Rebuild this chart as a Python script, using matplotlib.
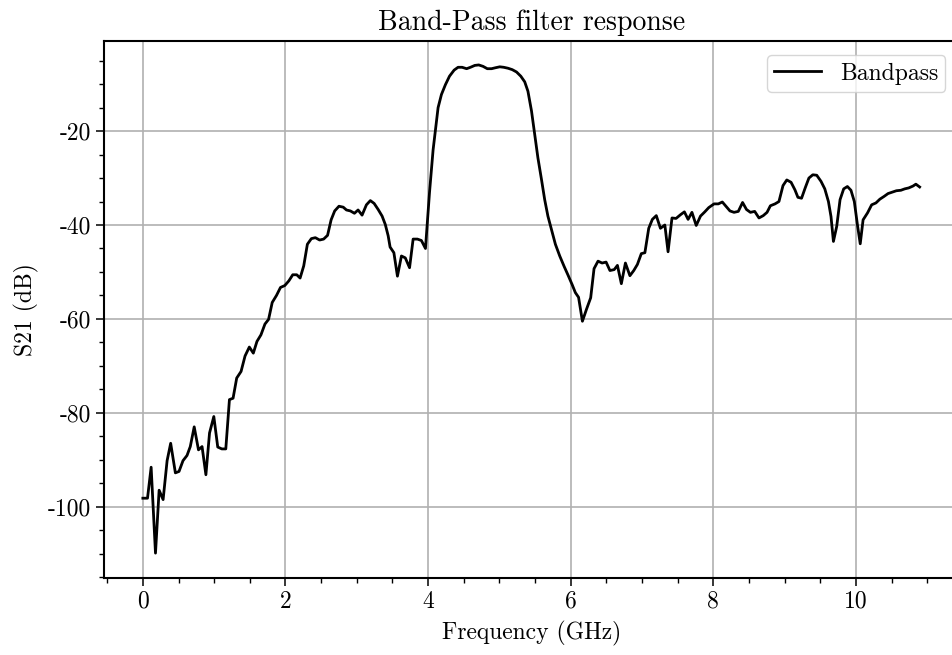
"""Band-pass filter S21 plot"""

import matplotlib
matplotlib.use("Agg")
import matplotlib.pyplot as plt
from matplotlib.ticker import MultipleLocator

plt.rcParams['font.family'] = 'serif'
plt.rcParams['font.serif'] = ['cmr10']
plt.rcParams['axes.formatter.use_mathtext'] = False
plt.rcParams['axes.unicode_minus'] = False
matplotlib.rc('font', **{"size": 17})

# measured S21 of the band-pass filter
freq_ghz = [
    0.0, 0.065, 0.116, 0.177, 0.228, 0.284, 0.34, 0.39, 0.456, 0.507,
    0.563, 0.619, 0.665, 0.72, 0.78, 0.83, 0.884, 0.935, 0.995, 1.05,
    1.107, 1.163, 1.214, 1.265, 1.316, 1.377, 1.433, 1.493, 1.549, 1.6,
    1.656, 1.712, 1.763, 1.814, 1.874, 1.93, 1.99, 2.047, 2.102, 2.158,
    2.205, 2.256, 2.307, 2.363, 2.419, 2.479, 2.535, 2.59, 2.64, 2.69,
    2.75, 2.81, 2.855, 2.91, 2.967, 3.018, 3.074, 3.135, 3.19, 3.243,
    3.3, 3.355, 3.40, 3.44, 3.467, 3.52, 3.57, 3.626, 3.68, 3.74,
    3.79, 3.85, 3.906, 3.963, 4.02, 4.07, 4.14, 4.187, 4.243, 4.30,
    4.365, 4.42, 4.477, 4.54, 4.594, 4.655, 4.71, 4.77, 4.83, 4.89,
    4.944, 5.005, 5.06, 5.12, 5.18, 5.24, 5.30, 5.355, 5.40, 5.45,
    5.495, 5.54, 5.59, 5.635, 5.68, 5.73, 5.785, 5.846, 5.907, 5.963,
    6.02, 6.065, 6.11, 6.164, 6.22, 6.28, 6.327, 6.383, 6.44, 6.496,
    6.55, 6.61, 6.655, 6.71, 6.767, 6.83, 6.884, 6.935, 6.99, 7.04,
    7.094, 7.145, 7.20, 7.258, 7.32, 7.365, 7.42, 7.477, 7.54, 7.594,
    7.646, 7.70, 7.76, 7.82, 7.88, 7.935, 8.01, 8.07, 8.126, 8.177,
    8.233, 8.29, 8.35, 8.41, 8.465, 8.52, 8.58, 8.64, 8.70, 8.753,
    8.80, 8.865, 8.92, 8.977, 9.03, 9.09, 9.144, 9.186, 9.237, 9.288,
    9.34, 9.395, 9.45, 9.51, 9.563, 9.614, 9.65, 9.684, 9.73, 9.777,
    9.828, 9.88, 9.93, 9.977, 10.02, 10.06, 10.10, 10.163, 10.22, 10.28,
    10.335, 10.395, 10.45, 10.51, 10.567, 10.63, 10.684, 10.74, 10.8, 10.84,
    10.893,
]
s21_db = [
    -98.2, -98.2, -91.6, -109.9, -96.5, -98.5, -90.2, -86.5, -92.8, -92.5,
    -90.2, -89.1, -87.2, -83.0, -87.9, -87.2, -93.2, -84.3, -80.8, -87.3,
    -87.7, -87.7, -77.2, -76.9, -72.6, -71.2, -67.9, -66.0, -67.3, -64.8,
    -63.4, -61.1, -60.1, -56.5, -55.0, -53.3, -52.9, -51.9, -50.6, -50.6,
    -51.3, -48.7, -44.1, -42.9, -42.7, -43.2, -43.0, -42.2, -38.9, -37.0,
    -36.0, -36.2, -36.8, -37.0, -37.5, -36.8, -37.9, -35.7, -34.8, -35.4,
    -36.7, -38.1, -39.9, -42.3, -44.7, -45.9, -50.9, -46.6, -47.0, -49.1,
    -43.0, -43.0, -43.3, -45.0, -33.0, -24.0, -15.0, -12.2, -10.1, -8.3,
    -7.0, -6.4, -6.4, -6.7, -6.4, -6.0, -5.9, -6.2, -6.7, -6.7,
    -6.5, -6.3, -6.4, -6.6, -6.9, -7.4, -8.3, -9.5, -11.5, -15.7,
    -20.7, -25.7, -30.3, -34.6, -38.1, -41.0, -44.1, -46.6, -48.8, -50.7,
    -52.7, -54.4, -55.4, -60.5, -58.0, -55.5, -49.3, -47.7, -48.1, -47.9,
    -49.7, -49.5, -48.6, -52.5, -48.1, -50.8, -49.7, -48.4, -46.1, -45.9,
    -40.7, -38.8, -38.0, -40.7, -40.0, -45.7, -38.5, -38.6, -37.8, -37.2,
    -38.8, -37.3, -40.1, -38.1, -37.2, -36.3, -35.5, -35.5, -35.1, -36.0,
    -37.0, -37.3, -37.1, -35.2, -36.7, -37.3, -37.1, -38.5, -38.0, -37.3,
    -35.9, -35.5, -35.0, -31.6, -30.4, -30.9, -32.5, -34.1, -34.3, -32.1,
    -30.0, -29.3, -29.4, -30.7, -32.3, -35.0, -38.2, -43.5, -40.3, -34.6,
    -32.3, -31.8, -32.6, -35.0, -39.9, -44.0, -38.9, -37.4, -35.7, -35.3,
    -34.5, -33.9, -33.3, -33.0, -32.7, -32.6, -32.3, -32.1, -31.7, -31.3,
    -31.9,
]


def plot_s21(freq, s21):
    """Plot S21 in dB against frequency"""
    fig = plt.figure(figsize=(9.53, 6.55), dpi=100)
    ax = fig.add_axes([104 / 953, 77 / 655, 855 / 953, 537 / 655])

    ax.plot(freq, s21, color='black', linewidth=2.0, label='Bandpass')

    ax.set_xlim(-0.545, 11.445)
    ax.set_ylim(-115.2, -0.8)
    ax.xaxis.set_major_locator(MultipleLocator(2))
    ax.xaxis.set_minor_locator(MultipleLocator(0.5))
    ax.yaxis.set_major_locator(MultipleLocator(20))
    ax.yaxis.set_minor_locator(MultipleLocator(5))
    ax.tick_params(which='major', direction='out', length=5.5, width=1.1)
    ax.tick_params(which='minor', direction='out', length=3.5, width=1.0)

    for spine in ax.spines.values():
        spine.set_linewidth(1.5)

    ax.grid(True, which='major', color='#b0b0b0', linewidth=1.2)
    ax.set_axisbelow(True)

    ax.set_xlabel('Frequency (GHz)', labelpad=6)
    ax.set_ylabel('S21 (dB)', labelpad=7)
    ax.set_title('Band-Pass filter response', fontsize=20, pad=8)

    leg = ax.legend(loc='upper right', bbox_to_anchor=(0.998, 0.995),
                    handlelength=2.0, borderpad=0.3, fancybox=True)
    leg.get_frame().set_edgecolor('#cccccc')

    fig.savefig('out.png', dpi=100)


if __name__ == '__main__':
    plot_s21(freq_ghz, s21_db)
